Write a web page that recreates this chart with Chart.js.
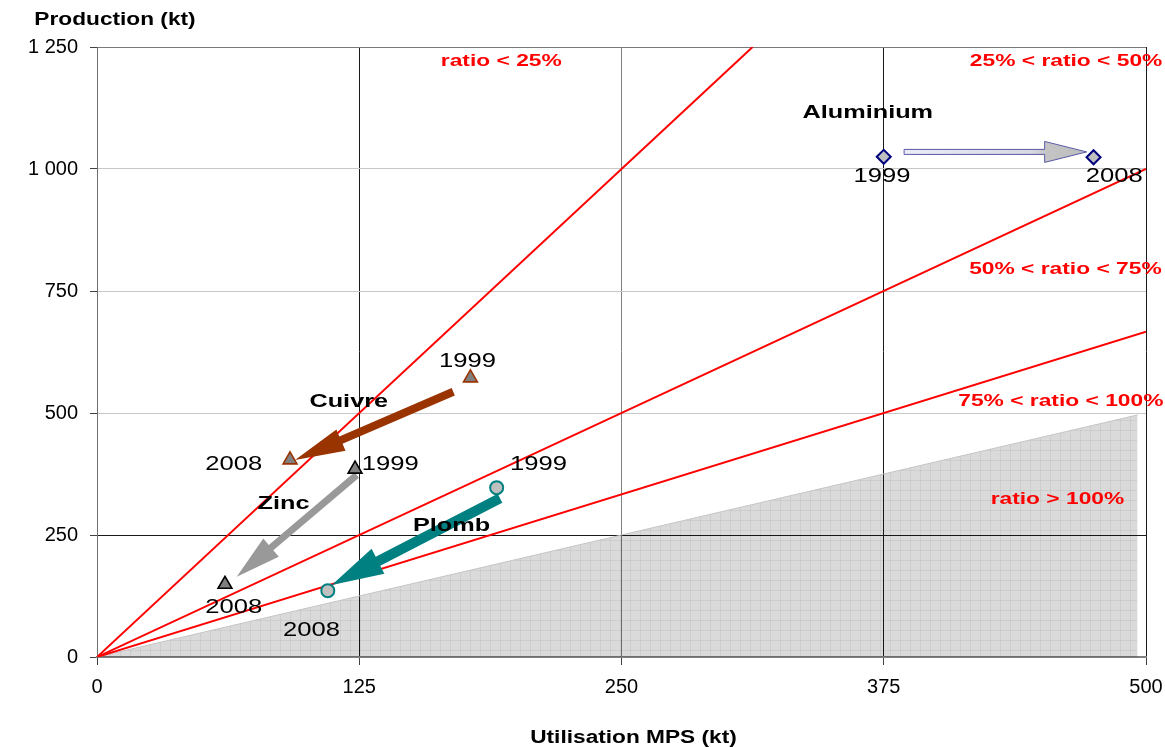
<!DOCTYPE html>
<html><head><meta charset="utf-8">
<script src="https://cdn.jsdelivr.net/npm/chart.js@4.4.1/dist/chart.umd.min.js"></script>
<style>html,body{margin:0;padding:0;background:#fff}#wrap{width:1165px;height:747px;position:relative}</style>
</head><body><div id="wrap"><canvas id="c"></canvas></div>
<script>
// ---------- data ----------
const years = ['1999', '2008'];
const metals = ['Aluminium', 'Cuivre', 'Zinc', 'Plomb'];

const aluminiumMPS = [375, 475];
const aluminiumProd = [1025, 1024];
const cuivreMPS = [178, 92];
const cuivreProd = [572, 404];
const zincMPS = [123, 61];
const zincProd = [385, 149];
const plombMPS = [190.5, 110];
const plombProd = [347, 136];

// ratio boundary lines (utilisation / production)
const ratio25X = [0, 312.5];  const ratio25Y = [0, 1250];
const ratio50X = [0, 500];    const ratio50Y = [0, 1000];
const ratio75X = [0, 500];    const ratio75Y = [0, 666.7];
const ratio100X = [0, 496];   const ratio100Y = [0, 496];

const xTicks = [0, 125, 250, 375, 500];
const yTicks = [0, 250, 500, 750, 1000, 1250];

const zoneLabels = ['ratio < 25%', '25% < ratio < 50%', '50% < ratio < 75%', '75% < ratio < 100%', 'ratio > 100%'];
const xTitle = 'Utilisation MPS (kt)';
const yTitle = 'Production (kt)';

// arrows (start -> end, in data units)
const arrowFromX = [384.7, 169.8, 123.8, 192.1];
const arrowFromY = [1035, 543.6, 373, 325.2];
const arrowToX = [471.7, 94.4, 66.6, 111.9];
const arrowToY = [1035, 403.7, 164.5, 147.5];

// ---------- helpers ----------
const pts = (xs, ys) => xs.map((v, i) => ({x: v, y: ys[i]}));
const fmt = v => String(v).replace(/\B(?=(\d{3})+(?!\d))/g, ' ');
const FONT = "'Liberation Sans', Arial, Helvetica, sans-serif";

function makePattern() {
  const c = document.createElement('canvas'); c.width = 10; c.height = 10;
  const g = c.getContext('2d');
  g.fillStyle = 'rgba(0,0,0,0.145)'; g.fillRect(0, 0, 10, 10);
  g.fillStyle = 'rgba(0,0,0,0.06)'; g.fillRect(0, 0, 10, 1); g.fillRect(0, 0, 1, 10);
  return g.createPattern(c, 'repeat');
}

const labelStyles = {
  year:  {font: '21px ' + FONT, sx: 1.22, color: '#000'},
  metal: {font: 'bold 19px ' + FONT, sx: 1.33, color: '#000'},
  zone:  {font: 'bold 17px ' + FONT, sx: 1.34, color: '#ff0000'},
  title: {font: 'bold 18px ' + FONT, sx: 1.26, color: '#000'}
};

const textItems = [
  {text: metals[0], x: 367.4, y: 1115, s: 'metal'},
  {text: years[0], x: 374.2, y: 985, s: 'year'},
  {text: years[1], x: 484.9, y: 985, s: 'year'},
  {text: metals[1], x: 120, y: 523, s: 'metal'},
  {text: years[0], x: 176.6, y: 606.6, s: 'year'},
  {text: years[1], x: 65.2, y: 395.5, s: 'year'},
  {text: metals[2], x: 88.9, y: 313, s: 'metal'},
  {text: years[0], x: 139.8, y: 395, s: 'year'},
  {text: years[1], x: 65.2, y: 101.4, s: 'year'},
  {text: metals[3], x: 169, y: 269, s: 'metal'},
  {text: years[0], x: 210.4, y: 394.5, s: 'year'},
  {text: years[1], x: 102.2, y: 54.3, s: 'year'},
  {text: zoneLabels[0], x: 192.7, y: 1221, s: 'zone'},
  {text: zoneLabels[1], x: 461.9, y: 1221, s: 'zone'},
  {text: zoneLabels[2], x: 461.6, y: 794, s: 'zone'},
  {text: zoneLabels[3], x: 459.4, y: 524, s: 'zone'},
  {text: zoneLabels[4], x: 457.8, y: 323, s: 'zone'}
];

const arrowStyles = [
  {shaft: 2.5, head: 42, wing: 10.5, fill: 'grad', stroke: '#5a5aa8'},
  {shaft: 4, head: 50, wing: 11.5, fill: '#993300'},
  {shaft: 3.5, head: 45, wing: 12, fill: '#999999'},
  {shaft: 5, head: 52, wing: 14, fill: '#008080'}
];

function drawText(ctx, text, px, py, st) {
  ctx.save();
  ctx.font = st.font; ctx.fillStyle = st.color;
  ctx.textAlign = 'center'; ctx.textBaseline = 'middle';
  ctx.translate(px, py); ctx.scale(st.sx, 1);
  ctx.fillText(text, 0, 0);
  ctx.restore();
}

function drawArrow(ctx, x0, y0, x1, y1, st) {
  const dx = x1 - x0, dy = y1 - y0, len = Math.hypot(dx, dy);
  const ux = dx / len, uy = dy / len, nx = -uy, ny = ux;
  const bx = x1 - ux * st.head, by = y1 - uy * st.head;
  ctx.save();
  ctx.beginPath();
  ctx.moveTo(x0 + nx * st.shaft, y0 + ny * st.shaft);
  ctx.lineTo(bx + nx * st.shaft, by + ny * st.shaft);
  ctx.lineTo(bx + nx * st.wing, by + ny * st.wing);
  ctx.lineTo(x1, y1);
  ctx.lineTo(bx - nx * st.wing, by - ny * st.wing);
  ctx.lineTo(bx - nx * st.shaft, by - ny * st.shaft);
  ctx.lineTo(x0 - nx * st.shaft, y0 - ny * st.shaft);
  ctx.closePath();
  if (st.fill === 'grad') {
    const g = ctx.createLinearGradient(x0, y0, x1, y1);
    g.addColorStop(0, '#ececf8'); g.addColorStop(0.7, '#d8d8e4'); g.addColorStop(0.78, '#c4c4c4'); g.addColorStop(1, '#bdbdbd');
    ctx.fillStyle = g;
  } else ctx.fillStyle = st.fill;
  ctx.fill();
  if (st.stroke) { ctx.strokeStyle = st.stroke; ctx.lineWidth = 1; ctx.stroke(); }
  ctx.restore();
}

const overlay = {
  id: 'overlay',
  afterDatasetDraw(chart, args) {
    if (args.index !== 4) return;
    const {ctx, scales: {x, y}} = chart;
    for (let i = 0; i < arrowFromX.length; i++) {
      drawArrow(ctx, x.getPixelForValue(arrowFromX[i]), y.getPixelForValue(arrowFromY[i]),
        x.getPixelForValue(arrowToX[i]), y.getPixelForValue(arrowToY[i]), arrowStyles[i]);
    }
  },
  afterDraw(chart) {
    const {ctx, chartArea: a, scales: {x, y}} = chart;
    textItems.forEach(t => drawText(ctx, t.text, x.getPixelForValue(t.x), y.getPixelForValue(t.y), labelStyles[t.s]));
    drawText(ctx, yTitle, a.left + 18, a.top - 27, labelStyles.title);
    drawText(ctx, xTitle, (a.left + a.right) / 2 + 12, a.bottom + 81, labelStyles.title);
  }
};

const gridColorY = v => v === 250 ? '#1a1a1a' : (v === 1250 ? '#7a7a7a' : (v === 0 ? '#808080' : '#c8c8c8'));
const gridColorX = v => (v === 125 || v === 375 || v === 500) ? '#1a1a1a' : '#808080';

const markerBase = {showLine: false, pointBorderWidth: 1.6, pointHoverRadius: 8};

new Chart(document.getElementById('c'), {
  type: 'scatter',
  data: {
    datasets: [
      Object.assign({}, markerBase, {label: metals[0], data: pts(aluminiumMPS, aluminiumProd), pointStyle: 'rectRot', pointRadius: 7,
        backgroundColor: '#c0c0c0', borderColor: '#000080', pointBorderWidth: 2}),
      Object.assign({}, markerBase, {label: metals[1], data: pts(cuivreMPS, cuivreProd), pointStyle: 'triangle', pointRadius: 8,
        backgroundColor: '#808080', borderColor: '#993300'}),
      Object.assign({}, markerBase, {label: metals[2], data: pts(zincMPS, zincProd), pointStyle: 'triangle', pointRadius: 8,
        backgroundColor: '#808080', borderColor: '#000000'}),
      Object.assign({}, markerBase, {label: metals[3], data: pts(plombMPS, plombProd), pointStyle: 'circle', pointRadius: 6.5,
        backgroundColor: '#c0c0c0', borderColor: '#008080', pointBorderWidth: 2}),
      {label: '75%', data: pts(ratio75X, ratio75Y), showLine: true, borderColor: '#ff0000', borderWidth: 2, pointRadius: 0, fill: false},
      {label: '50%', data: pts(ratio50X, ratio50Y), showLine: true, borderColor: '#ff0000', borderWidth: 2, pointRadius: 0, fill: false},
      {label: '25%', data: pts(ratio25X, ratio25Y), showLine: true, borderColor: '#ff0000', borderWidth: 2, pointRadius: 0, fill: false},
      {label: '100%', data: pts(ratio100X, ratio100Y), showLine: true, borderColor: '#c4c4c4', borderWidth: 1, pointRadius: 0,
        fill: 'origin', backgroundColor: makePattern()}
    ]
  },
  options: {
    responsive: true, maintainAspectRatio: false, animation: false,
    layout: {padding: {left: 0, right: 19, top: 47, bottom: 0}},
    plugins: {legend: {display: false}, tooltip: {enabled: false}},
    scales: {
      x: {
        type: 'linear', min: 0, max: 500,
        afterBuildTicks: s => { s.ticks = xTicks.map(v => ({value: v})); },
        afterFit: s => { s.height = 90; s.paddingLeft = 0; s.paddingRight = 0; },
        ticks: {callback: v => fmt(v), font: {family: FONT, size: 20}, color: '#000', padding: 10, maxRotation: 0},
        grid: {color: c => gridColorX(c.tick.value), lineWidth: 1, tickLength: 8, tickColor: '#404040', drawOnChartArea: true},
        border: {color: '#808080', width: 2}
      },
      y: {
        type: 'linear', min: 0, max: 1250,
        afterBuildTicks: s => { s.ticks = yTicks.map(v => ({value: v})); },
        afterFit: s => { s.width = 97; s.paddingTop = 0; s.paddingBottom = 0; },
        ticks: {callback: v => fmt(v), font: {family: FONT, size: 20}, color: '#000', padding: 12},
        grid: {color: c => gridColorY(c.tick.value), lineWidth: 1, tickLength: 7, tickColor: '#404040'},
        border: {color: '#707070', width: 1}
      }
    }
  },
  plugins: [overlay]
});
</script>
</body></html>
